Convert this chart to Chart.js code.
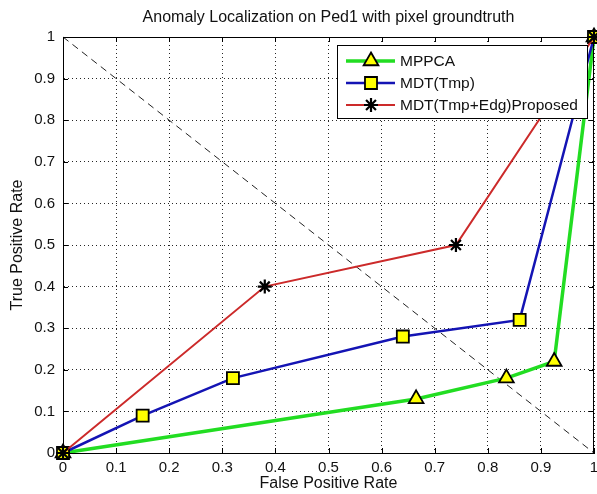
<!DOCTYPE html>
<html>
<head>
<meta charset="utf-8">
<script src="https://cdn.jsdelivr.net/npm/chart.js@4/dist/chart.umd.min.js"></script>
<style>
  html, body { margin: 0; padding: 0; background: #fff; }
  #wrap { width: 597px; height: 494px; position: relative; }
</style>
</head>
<body>
<div id="wrap"><canvas id="c" width="597" height="494"></canvas></div>
<script>
// ---- data ----
const chartTitle = 'Anomaly Localization on Ped1 with pixel groundtruth';
const xTitle = 'False Positive Rate';
const yTitle = 'True Positive Rate';
const seriesNames = ['MPPCA', 'MDT(Tmp)', 'MDT(Tmp+Edg)Proposed'];
const tickLabels = ['0', '0.1', '0.2', '0.3', '0.4', '0.5', '0.6', '0.7', '0.8', '0.9', '1'];

const fprMPPCA = [0, 0.665, 0.835, 0.925, 1];
const tprMPPCA = [0, 0.13, 0.18, 0.22, 1];

const fprMDT = [0, 0.15, 0.32, 0.64, 0.86, 1];
const tprMDT = [0, 0.09, 0.18, 0.28, 0.32, 1];

const fprProposed = [0, 0.38, 0.74, 1];
const tprProposed = [0, 0.40, 0.50, 1];

const chanceFpr = [0, 1];
const chanceTpr = [1, 0];

const zip = (xs, ys) => xs.map((x, i) => ({ x: x, y: ys[i] }));

const FONT = "'Liberation Sans', Arial, sans-serif";

const datasets = [
  {
    label: seriesNames[0],
    data: zip(fprMPPCA, tprMPPCA),
    borderColor: '#22dd22',
    borderWidth: 3.5,
    pointStyle: 'triangle',
    pointRadius: 8.5,
    pointBackgroundColor: '#ffff00',
    pointBorderColor: '#000',
    pointBorderWidth: 1.8,
    order: 3
  },
  {
    label: seriesNames[1],
    data: zip(fprMDT, tprMDT),
    borderColor: '#1414b4',
    borderWidth: 2.5,
    pointStyle: 'rect',
    pointRadius: 8.5,
    pointBackgroundColor: '#ffff00',
    pointBorderColor: '#000',
    pointBorderWidth: 1.8,
    order: 2
  },
  {
    label: seriesNames[2],
    data: zip(fprProposed, tprProposed),
    borderColor: '#cc2a2a',
    borderWidth: 2,
    pointStyle: 'star',
    pointRadius: 7,
    pointBackgroundColor: '#000',
    pointBorderColor: '#000',
    pointBorderWidth: 2.2,
    order: 1
  },
  {
    label: 'chance',
    data: zip(chanceFpr, chanceTpr),
    borderColor: '#222',
    borderWidth: 1,
    borderDash: [7, 5],
    pointRadius: 0,
    order: 4
  }
];
datasets.forEach(d => { d.showLine = true; d.tension = 0; d.fill = false; d.clip = false; });

function drawMarker(ctx, style, x, y, r, fill, stroke, lw) {
  ctx.save();
  ctx.fillStyle = fill; ctx.strokeStyle = stroke; ctx.lineWidth = lw;
  ctx.beginPath();
  if (style === 'triangle') {
    let rad = 0;
    ctx.moveTo(x + Math.sin(rad) * r, y - Math.cos(rad) * r);
    rad += 2 * Math.PI / 3;
    ctx.lineTo(x + Math.sin(rad) * r, y - Math.cos(rad) * r);
    rad += 2 * Math.PI / 3;
    ctx.lineTo(x + Math.sin(rad) * r, y - Math.cos(rad) * r);
    ctx.closePath();
    ctx.fill(); ctx.stroke();
  } else if (style === 'rect') {
    const s = Math.SQRT1_2 * r;
    ctx.rect(x - s, y - s, 2 * s, 2 * s);
    ctx.fill(); ctx.stroke();
  } else if (style === 'star') {
    for (let k = 0; k < 4; k++) {
      const a = k * Math.PI / 4;
      ctx.moveTo(x - Math.cos(a) * r, y - Math.sin(a) * r);
      ctx.lineTo(x + Math.cos(a) * r, y + Math.sin(a) * r);
    }
    ctx.stroke();
  }
  ctx.restore();
}

const framePlugin = {
  id: 'frame',
  afterDraw(chart) {
    const ctx = chart.ctx;
    const a = chart.chartArea;
    const xs = chart.scales.x, ys = chart.scales.y;
    ctx.save();
    // box
    ctx.strokeStyle = '#000';
    ctx.lineWidth = 1;
    ctx.strokeRect(Math.round(a.left) + 0.5, Math.round(a.top) + 0.5,
                   Math.round(a.right - a.left) - 1, Math.round(a.bottom - a.top));
    // inward ticks on all four sides
    const tl = 5;
    ctx.beginPath();
    xs.ticks.forEach(t => {
      const px = Math.round(xs.getPixelForValue(t.value)) + 0.5;
      ctx.moveTo(px, a.bottom); ctx.lineTo(px, a.bottom - tl);
      ctx.moveTo(px, a.top); ctx.lineTo(px, a.top + tl);
    });
    ys.ticks.forEach(t => {
      const py = Math.round(ys.getPixelForValue(t.value)) + 0.5;
      ctx.moveTo(a.left, py); ctx.lineTo(a.left + tl, py);
      ctx.moveTo(a.right, py); ctx.lineTo(a.right - tl, py);
    });
    ctx.stroke();

    // legend
    const lx = 337, ly = 45, lw = 250, lh = 73;
    ctx.fillStyle = '#fff';
    ctx.fillRect(lx, ly, lw, lh);
    ctx.strokeStyle = '#000';
    ctx.lineWidth = 1;
    ctx.strokeRect(lx + 0.5, ly + 0.5, lw, lh);
    const rowY = [61, 83, 105];
    ctx.font = '15.5px ' + FONT;
    ctx.textBaseline = 'middle';
    ctx.textAlign = 'left';
    for (let i = 0; i < 3; i++) {
      const ds = chart.data.datasets[i];
      const y = rowY[i];
      ctx.beginPath();
      ctx.strokeStyle = ds.borderColor;
      ctx.lineWidth = ds.borderWidth;
      ctx.moveTo(346, y); ctx.lineTo(395, y);
      ctx.stroke();
      drawMarker(ctx, ds.pointStyle, 371, y, ds.pointRadius, ds.pointBackgroundColor,
                 ds.pointBorderColor, ds.pointBorderWidth);
      ctx.fillStyle = '#111';
      ctx.fillText(ds.label, 400, y + 1);
    }
    ctx.restore();
  }
};

new Chart(document.getElementById('c'), {
  type: 'scatter',
  data: { datasets: datasets },
  plugins: [framePlugin],
  options: {
    responsive: false,
    animation: false,
    devicePixelRatio: 1,
    layout: { autoPadding: false, padding: { left: 0, right: 3, top: 0, bottom: 0 } },
    plugins: {
      legend: { display: false },
      tooltip: { enabled: false },
      title: {
        display: true,
        fullSize: false,
        text: chartTitle,
        color: '#111',
        font: { family: FONT, size: 16, weight: 'normal', lineHeight: 1.2 },
        padding: { top: 8.2, bottom: 9.6 }
      }
    },
    scales: {
      x: {
        type: 'linear',
        min: 0, max: 1,
        afterFit: s => { s.height = 41; s.paddingRight = 0; s.paddingLeft = 0; },
        ticks: {
          stepSize: 0.1,
          autoSkip: false,
          maxRotation: 0,
          padding: 6,
          color: '#111',
          font: { family: FONT, size: 15 },
          callback: (v, i) => tickLabels[i]
        },
        grid: { color: 'rgba(0,0,0,0.85)', lineWidth: 1, drawTicks: false },
        border: { display: true, color: '#000', width: 1, dash: [1, 3] },
        title: {
          display: true,
          text: xTitle,
          color: '#111',
          font: { family: FONT, size: 16, lineHeight: 1.2 },
          padding: { top: 0, bottom: 0.5 }
        }
      },
      y: {
        type: 'linear',
        min: 0, max: 1,
        afterFit: s => { s.width = 63; s.paddingTop = 0; s.paddingBottom = 0; },
        ticks: {
          stepSize: 0.1,
          autoSkip: false,
          padding: 8,
          color: '#111',
          font: { family: FONT, size: 15 },
          callback: (v, i) => tickLabels[i]
        },
        grid: { color: 'rgba(0,0,0,0.85)', lineWidth: 1, drawTicks: false },
        border: { display: true, color: '#000', width: 1, dash: [1, 3] },
        title: {
          display: true,
          text: yTitle,
          color: '#111',
          font: { family: FONT, size: 16, lineHeight: 1.2 },
          padding: { top: 8, bottom: 0 }
        }
      }
    }
  }
});
</script>
</body>
</html>
